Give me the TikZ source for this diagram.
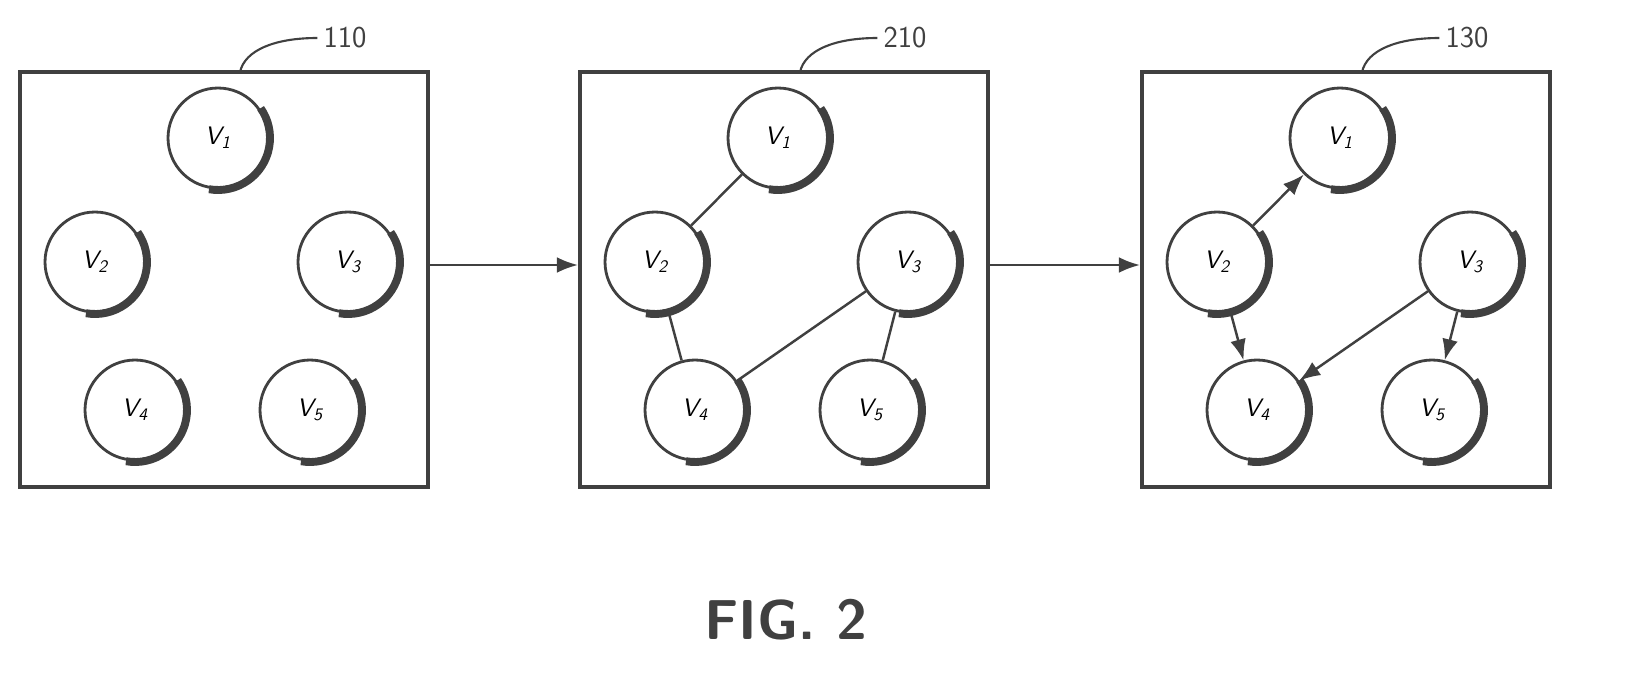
\documentclass[tikz,border=0pt]{standalone}
\usepackage{tikz}
\usetikzlibrary{arrows.meta}
\usetikzlibrary{positioning}
\definecolor{ink}{rgb}{0.25,0.25,0.25}

\begin{document}
\begin{tikzpicture}[x=0.02cm,y=-0.02cm]
	\tikzstyle{frame} = [draw=ink,line width=2.4pt,inner sep=0pt]
	\tikzstyle{vertex} = [circle,draw=ink,line width=1.6pt,minimum size=2cm,inner sep=0pt,font=\Large\itshape\sffamily]
	\tikzstyle{link} = [draw=ink,line width=1.4pt]
	\tikzstyle{arrow} = [-{Latex[length=12pt,width=9pt]}]

	% Bounding box
	\useasboundingbox (0,0) rectangle (1639,689);

	% Draw the three boxes with their vertices
	\foreach \bx/\lab/\dx in {a/110/0,b/210/560,c/130/1122}
	{
		\draw[frame] (20+\dx,72) rectangle (428+\dx,487);
		\coordinate (\bx top) at (240+\dx,72);
		\node[font=\LARGE\sffamily,text=ink] (\bx lab) at (345+\dx,38) {\lab};
		\draw[ink,line width=1.2pt] (\bx top) .. controls (245+\dx,50) and (275+\dx,38) .. (\bx lab.west);
		\foreach \v/\x/\y in {1/218/138,2/95/262,3/348/262,4/135/410,5/310/410}
		{
			\node[vertex,fill=white] (\bx\v) at (\x+\dx,\y) {V\textsubscript{\v}};
			% shadow on the lower right
			\draw[ink,line width=4.5pt] (\x+\dx,\y) ++(100:52) arc (100:-35:52);
		}
	}

	% Arrows between the boxes
	\coordinate (aR) at (428,265);
	\coordinate (bL) at (578,265);
	\coordinate (bR) at (988,265);
	\coordinate (cL) at (1140,265);
	\draw[link,arrow] (aR) -- (bL);
	\draw[link,arrow] (bR) -- (cL);

	% Undirected edges
	\draw[link] (b1) -- (b2);
	\draw[link] (b2) -- (b4);
	\draw[link] (b4) -- (b3);
	\draw[link] (b3) -- (b5);

	% Directed edges
	\draw[link,arrow] (c2) -- (c1);
	\draw[link,arrow] (c2) -- (c4);
	\draw[link,arrow] (c3) -- (c4);
	\draw[link,arrow] (c3) -- (c5);

	\node[font=\fontsize{32}{36}\selectfont\sffamily\bfseries,text=ink] (fig) at (786,620) {FIG. 2};
\end{tikzpicture}
\end{document}
